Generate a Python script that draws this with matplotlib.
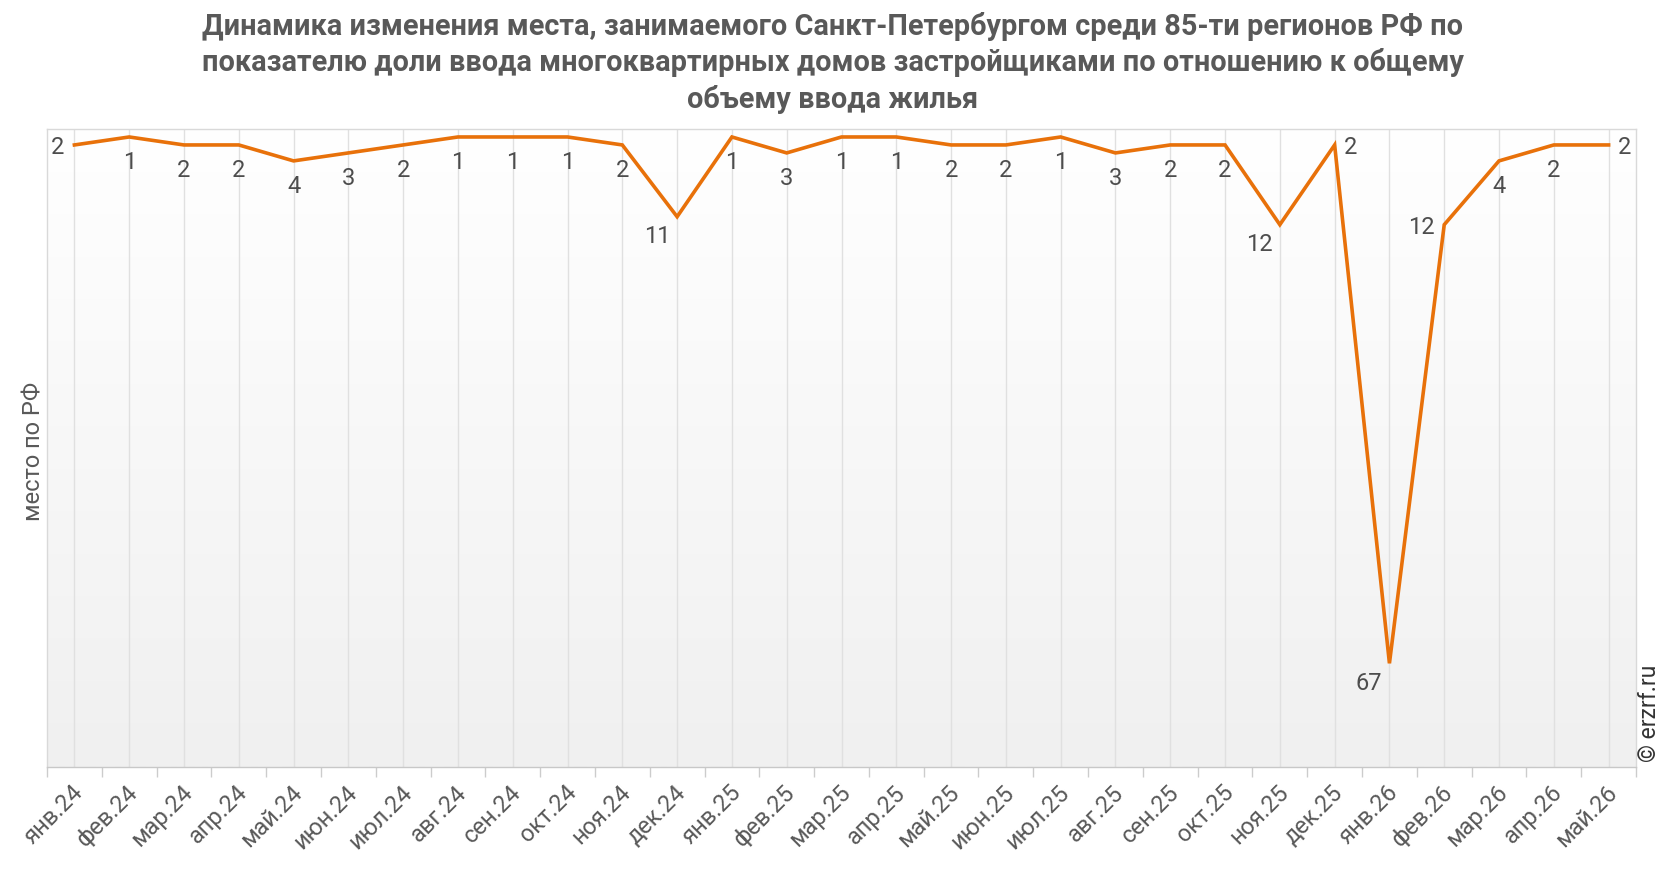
import numpy as np
import matplotlib
matplotlib.use("Agg")
import matplotlib.pyplot as plt
from matplotlib.colors import LinearSegmentedColormap
import matplotlib.transforms as mtransforms

plt.rcParams['font.family'] = ['Roboto', 'DejaVu Sans']

months = ["янв.24", "фев.24", "мар.24", "апр.24", "май.24", "июн.24", "июл.24",
          "авг.24", "сен.24", "окт.24", "ноя.24", "дек.24",
          "янв.25", "фев.25", "мар.25", "апр.25", "май.25", "июн.25", "июл.25",
          "авг.25", "сен.25", "окт.25", "ноя.25", "дек.25",
          "янв.26", "фев.26", "мар.26", "апр.26", "май.26"]
places = [2, 1, 2, 2, 4, 3, 2, 1, 1, 1, 2, 11,
          1, 3, 1, 1, 2, 2, 1, 3, 2, 2, 12, 2,
          67, 12, 4, 2, 2]
# label placement per point: 'b' below, 'l' left, 'r' right, 'bl' below-left
label_pos = ['l', 'b', 'b', 'b', 'b', 'b', 'b', 'b', 'b', 'b', 'b', 'bl',
             'b', 'b', 'b', 'b', 'b', 'b', 'b', 'b', 'b', 'b', 'bl', 'r',
             'bl', 'l', 'b', 'b', 'r']

title = ("Динамика изменения места, занимаемого Санкт-Петербургом среди 85-ти регионов РФ по\n"
         "показателю доли ввода многоквартирных домов застройщиками по отношению к общему\n"
         "объему ввода жилья")

W, H = 1666, 872
fig = plt.figure(figsize=(W / 100, H / 100), dpi=100)
ax = fig.add_axes([47 / W, 1 - 767 / H, (1636 - 47) / W, (767 - 129) / H])

x = np.arange(len(months))

# gradient background
grad = np.linspace(0, 1, 256).reshape(-1, 1)
cmap = LinearSegmentedColormap.from_list("bg", ["#ffffff", "#f0f0f0"])
ax.imshow(grad, cmap=cmap, aspect='auto', extent=[0, 1, 0, 1],
          transform=ax.transAxes, zorder=0, origin='upper')

ax.set_xlim(-0.5, len(months) - 0.5)
ax.set_ylim(80, 0)

for xi in x:
    ax.axvline(xi, color="#e0e0e0", lw=1.0, zorder=1)

ax.plot(x, places, color="#e8710a", lw=2.6, zorder=3, solid_joinstyle='miter')

lab_color = "#4d4d4d"
for xi, v, p in zip(x, places, label_pos):
    if p == 'b':
        off, ha, va = (0, -10), 'center', 'top'
    elif p == 'l':
        off, ha, va = (-7, -2), 'right', 'center'
    elif p == 'r':
        off, ha, va = (7, -2), 'left', 'center'
    else:  # below-left
        off, ha, va = (-5, -6), 'right', 'top'
    ax.annotate(str(v), (xi, v), xytext=off, textcoords='offset points',
                ha=ha, va=va, fontsize=17, color=lab_color, zorder=4)

ax.set_yticks([])
ax.set_xticks(x)
ax.set_xticklabels([])
ax.tick_params(axis='x', which='major', length=0)
ax.set_xticks(np.arange(-0.5, len(months), 1), minor=True)
ax.tick_params(axis='x', which='minor', length=7, color="#cccccc", width=1)

offset = mtransforms.ScaledTranslation(-3 / 100, -14 / 100, fig.dpi_scale_trans)
xtrans = mtransforms.blended_transform_factory(ax.transData, ax.transAxes) + offset
for xi, m in zip(x, months):
    ax.text(xi, 0, m, transform=xtrans,
            rotation=45, rotation_mode='anchor', ha='right', va='top',
            fontsize=17, color="#595959")

for s in ax.spines.values():
    s.set_color("#d9d9d9")
    s.set_linewidth(1)
ax.spines['bottom'].set_color("#c8c8c8")

fig.text(34 / W, 1 - 451 / H, "место по РФ", rotation=90, ha='center', va='center',
         fontsize=17, color="#595959")

fig.text(0.5, 1 - 12 / H, title, ha='center', va='top', fontsize=20.8,
         fontweight='bold', color="#595959", linespacing=1.32)

fig.text(1650 / W, 1 - 713 / H, "© erzrf.ru", rotation=90, ha='center', va='center',
         fontsize=16.5, color="#333333")

fig.savefig("out.png", dpi=100)
